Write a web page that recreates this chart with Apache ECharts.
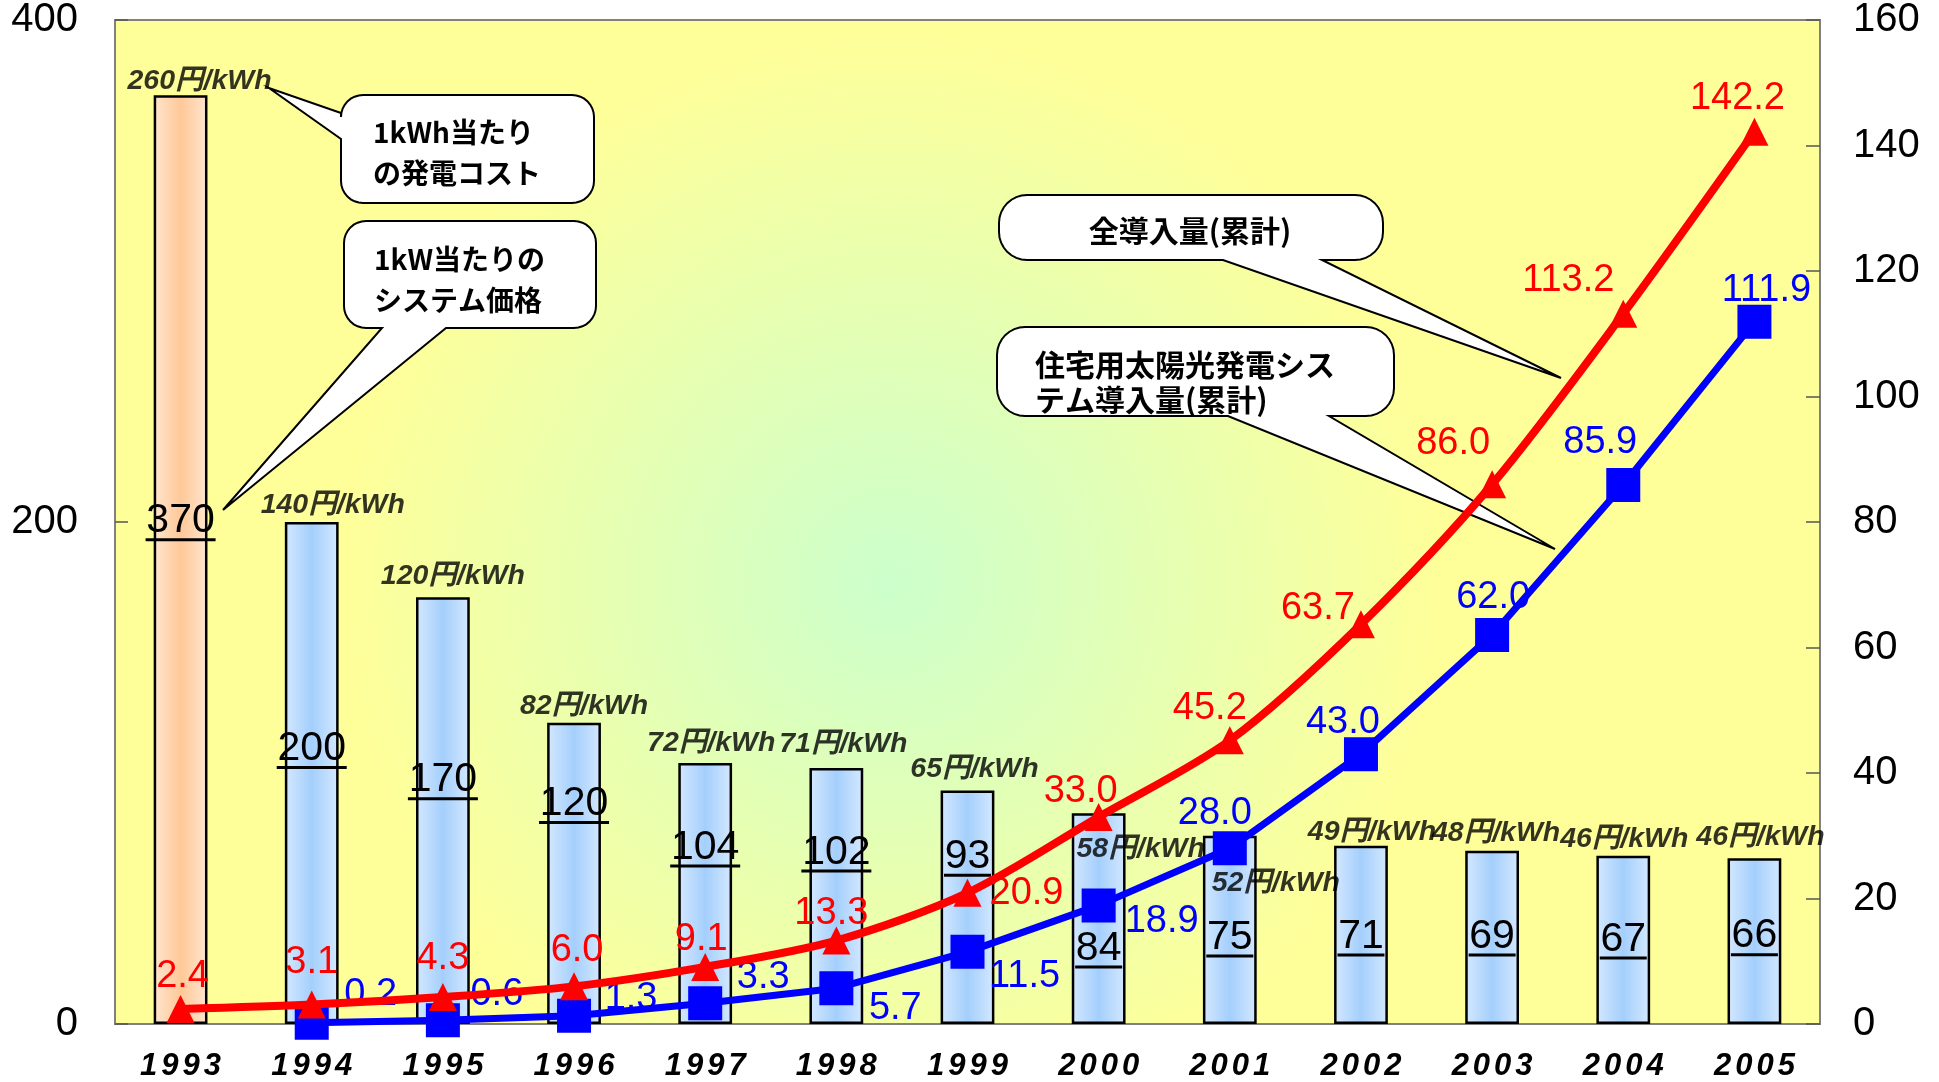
<!DOCTYPE html>
<html><head><meta charset="utf-8">
<script src="https://cdn.jsdelivr.net/npm/echarts@6/dist/echarts.min.js"></script>
<style>html,body{margin:0;padding:0;background:#fff}#c{width:1939px;height:1082px}</style>
</head><body><div id="c"></div>
<script>
// ---- data ----
const years = ['1993','1994','1995','1996','1997','1998','1999','2000','2001','2002','2003','2004','2005'];
const systemPrice = [370,200,170,120,104,102,93,84,75,71,69,67,66];          // 1kW当たりのシステム価格 (left axis)
const generationCost = [260,140,120,82,72,71,65,58,52,49,48,46,46];          // 1kWh当たりの発電コスト (円/kWh)
const totalInstalled = [2.4,3.1,4.3,6.0,9.1,13.3,20.9,33.0,45.2,63.7,86.0,113.2,142.2];      // 全導入量(累計)
const residentialInstalled = [null,0.2,0.6,1.3,3.3,5.7,11.5,18.9,28.0,43.0,62.0,85.9,111.9]; // 住宅用(累計)
const leftAxis = {min:0, max:400, interval:200};
const rightAxis = {min:0, max:160, interval:20};

// ---- label nudges (style only) ----
const priceLabelDy = [-37,-22.5,-29,-68,-44.5,-42,-49,31.5,9,3,0.5,1,-3.5];
const costLabelOffset = [[19,1],[21,-2],[10,-6],[10,-2],[6,-5],[7,-9],[7,-6],[42,51],[46,62],[11,1],[4,-3],[1,-2],[6,-6]];
const redLabelOffset = [[2,1],[0,-9],[0,-6],[3,-3],[-4,6],[-5,6],[59,34],[-18,8],[-20,1],[-43,17],[-39,-8],[-55,0],[-17,0]];
const blueLabelOffset = [[0,0],[59,8],[54,10],[57,19],[58,10],[59,56],[57,61],[63,52],[-15,1],[-18,4],[1,-1],[-23,-6],[12,5]];

const LATIN = "'Liberation Sans', Arial, 'Noto Sans CJK JP', sans-serif";
const CJK = "'Noto Sans CJK JP', 'Liberation Sans', sans-serif";

function callout(x0,y0,x1,y1,r,tail){
  const pts=[];
  const arc=(cx,cy,a0,a1)=>{for(let i=0;i<=8;i++){const a=a0+(a1-a0)*i/8;pts.push([cx+r*Math.cos(a),cy+r*Math.sin(a)]);}};
  arc(x0+r,y0+r,Math.PI,1.5*Math.PI);
  arc(x1-r,y0+r,1.5*Math.PI,2*Math.PI);
  arc(x1-r,y1-r,0,0.5*Math.PI);
  if(tail.side==='bottom'){pts.push([tail.b,y1],tail.tip,[tail.a,y1]);}
  arc(x0+r,y1-r,0.5*Math.PI,Math.PI);
  if(tail.side==='left'){pts.push([x0,tail.b],tail.tip,[x0,tail.a]);}
  return pts;
}
const boxStyle = {fill:'#fff', stroke:'#000', lineWidth:2};
const graphics = [
  {type:'polygon', z:1, shape:{points:callout(341,95,594,203,22,{side:'left',a:113,b:139,tip:[269,88]})}, style:boxStyle},
  {type:'polygon', z:1, shape:{points:callout(344,221,596,328,22,{side:'bottom',a:382,b:446,tip:[223,510]})}, style:boxStyle},
  {type:'polygon', z:1, shape:{points:callout(999,195,1383,260,28,{side:'bottom',a:1223,b:1322,tip:[1561,378]})}, style:boxStyle},
  {type:'polygon', z:1, shape:{points:callout(997,327,1394,416,28,{side:'bottom',a:1228,b:1329,tip:[1555,549]})}, style:boxStyle},
  {type:'text', z:1, x:373, y:152.5, style:{text:'1kWh当たり\nの発電コスト', fontSize:28, fontWeight:'bold', fontFamily:CJK, lineHeight:41, fill:'#000', align:'left', verticalAlign:'middle'}},
  {type:'text', z:1, x:374, y:279.5, style:{text:'1kW当たりの\nシステム価格', fontSize:28, fontWeight:'bold', fontFamily:CJK, lineHeight:41, fill:'#000', align:'left', verticalAlign:'middle'}},
  {type:'text', z:1, x:1190, y:231, style:{text:'全導入量(累計)', fontSize:30, fontWeight:'bold', fontFamily:CJK, lineHeight:36, fill:'#000', align:'center', verticalAlign:'middle'}},
  {type:'text', z:1, x:1035, y:382.5, style:{text:'住宅用太陽光発電シス\nテム導入量(累計)', fontSize:30, fontWeight:'bold', fontFamily:CJK, lineHeight:35, fill:'#000', align:'left', verticalAlign:'middle'}}
];

const blueFill = new echarts.graphic.LinearGradient(0,0,1,0,[{offset:0,color:'#d4e8ff'},{offset:0.5,color:'#a4cffc'},{offset:1,color:'#d4e8ff'}]);
const orangeFill = new echarts.graphic.LinearGradient(0,0,1,0,[{offset:0,color:'#ffe6d0'},{offset:0.5,color:'#ffc898'},{offset:1,color:'#ffe6d0'}]);

const chart = echarts.init(document.getElementById('c'));
chart.setOption({
  animation:false,
  backgroundColor:'#ffffff',
  grid:{left:115, right:119, top:16, bottom:58, show:true, borderColor:'#808080', borderWidth:2,
    backgroundColor:new echarts.graphic.RadialGradient(0.455,0.56,0.55,[{offset:0,color:'#ccffcc'},{offset:1,color:'#ffff99'}])},
  xAxis:{type:'category', data:years, boundaryGap:true,
    axisLine:{show:true, lineStyle:{color:'#808080', width:2}}, axisTick:{show:false},
    axisLabel:{interval:0, margin:27, color:'#000',
      formatter:v=>v.split('').map(d=>'{d|'+d+'}').join('{s| }'),
      rich:{d:{fontSize:31, fontWeight:'bold', fontStyle:'italic', fontFamily:LATIN, color:'#000'},
        s:{width:4, fontSize:10}}}},
  yAxis:[
    {type:'value', position:'left', min:leftAxis.min, max:leftAxis.max, interval:leftAxis.interval,
      axisLine:{show:true, lineStyle:{color:'#808080', width:2}}, axisTick:{show:true, inside:true, length:13, lineStyle:{color:'#555', width:1.5}},
      splitLine:{show:false}, axisLabel:{margin:37, color:'#000', fontSize:40, fontFamily:LATIN}},
    {type:'value', position:'right', min:rightAxis.min, max:rightAxis.max, interval:rightAxis.interval,
      axisLine:{show:true, lineStyle:{color:'#808080', width:2}}, axisTick:{show:true, inside:true, length:14, lineStyle:{color:'#555', width:1.5}},
      splitLine:{show:false}, axisLabel:{margin:33, color:'#000', fontSize:40, fontFamily:LATIN}}
  ],
  graphic:graphics,
  series:[
    {type:'bar', yAxisIndex:0, barWidth:'41%', z:2,
      data:systemPrice.map((v,i)=>({value:v, itemStyle:{color:i===0?orangeFill:blueFill}, label:{offset:[0,priceLabelDy[i]]}})),
      itemStyle:{borderColor:'#000', borderWidth:2.5},
      label:{show:true, position:'inside',
        formatter:p=>'{v|'+p.value+'}\n{'+(String(p.value).length>2?'u3':'u2')+'| }',
        rich:{v:{fontSize:41, lineHeight:34, color:'#000', fontFamily:LATIN},
          u3:{width:70, height:3, lineHeight:3, fontSize:1, backgroundColor:'#000'},
          u2:{width:47, height:3, lineHeight:3, fontSize:1, backgroundColor:'#000'}}}},
    {type:'scatter', yAxisIndex:0, z:3, symbolSize:0, silent:true,
      data:systemPrice.map((v,i)=>({value:[i,v], label:{offset:costLabelOffset[i]}})),
      label:{show:true, position:'top', distance:0, formatter:p=>generationCost[p.dataIndex]+'円/kWh',
        fontSize:28.5, lineHeight:30, fontWeight:'bold', fontStyle:'italic', color:'#000', fontFamily:LATIN}},
    {type:'line', yAxisIndex:1, z:5, smooth:0.3, symbol:'triangle', symbolSize:28,
      lineStyle:{color:'#ff0000', width:8}, itemStyle:{color:'#ff0000'},
      data:totalInstalled.map((v,i)=>({value:v, label:{offset:redLabelOffset[i]}})),
      label:{show:true, position:'top', distance:0, fontSize:38, lineHeight:38, color:'#ff0000', fontFamily:LATIN,
        formatter:p=>p.value.toFixed(1)}},
    {type:'line', yAxisIndex:1, z:4, symbol:'rect', symbolSize:34,
      lineStyle:{color:'#0000ff', width:7}, itemStyle:{color:'#0000ff'},
      data:residentialInstalled.map((v,i)=>({value:v, label:{offset:blueLabelOffset[i]}})),
      label:{show:true, position:'top', distance:0, fontSize:38, lineHeight:38, color:'#0000ff', fontFamily:LATIN,
        formatter:p=>p.value==null?'':Number(p.value).toFixed(1)}}
  ]
});
</script></body></html>
